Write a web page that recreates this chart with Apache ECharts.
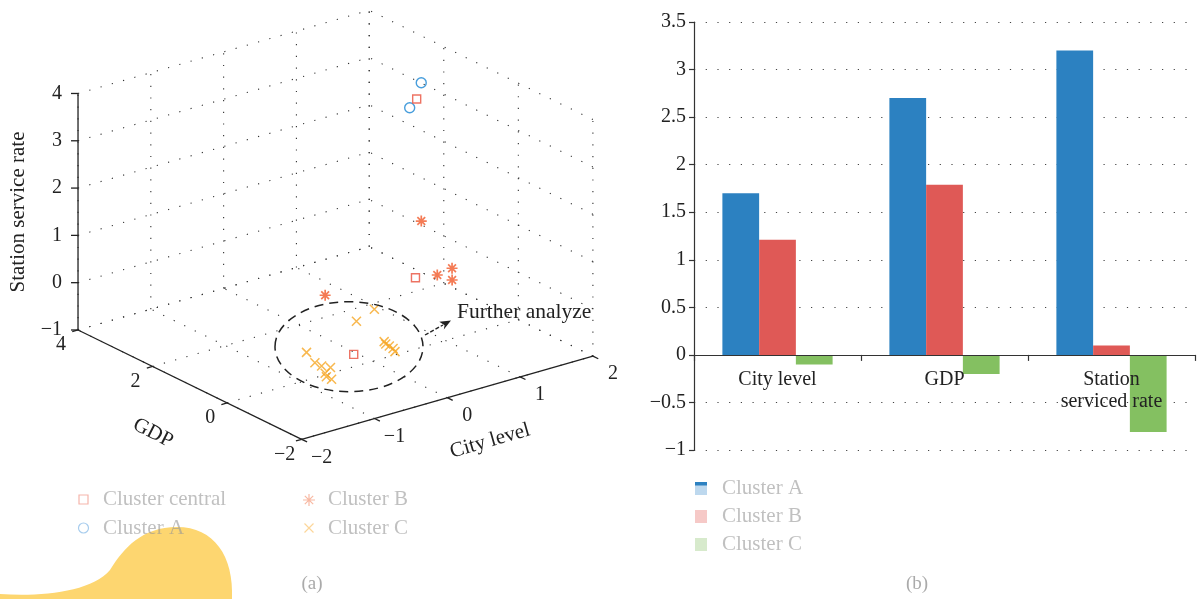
<!DOCTYPE html>
<html><head><meta charset="utf-8">
<script src="https://cdn.jsdelivr.net/npm/echarts@6/dist/echarts.min.js"></script>
<style>html,body{margin:0;padding:0;background:#fff}#c{width:1202px;height:599px}</style>
</head><body><div id="c"></div>
<script>
// ===================== DATA =====================
// (a) 3D scatter: [city level, GDP, station service rate]
const cityTicks = [-2, -1, 0, 1, 2];
const gdpTicks = [-2, 0, 2, 4];
const rateTicks = [-1, 0, 1, 2, 3, 4];
const clusterCentral = [[1.51, 1.77, 3.2], [0.93, 0.67, 0.1], [-0.21, 0.10, -0.8]];
const clusterA = [[1.67, 1.96, 3.4], [1.46, 1.86, 3.0]];
const clusterB = [[1.23, 1.10, 1.0], [1.25, 0.71, 0.0], [1.33, 0.47, 0.2], [1.29, 0.39, 0.0], [-0.50, 0.30, 0.5]];
const clusterC = [[0.35, 0.64, -0.3], [0.15, 0.73, -0.5], [0.28, 0.24, -0.8], [0.25, 0.14, -0.8],
  [0.33, 0.20, -0.9], [0.32, 0.08, -0.9], [0.28, -0.05, -0.9], [-0.50, 0.80, -0.9], [-0.61, 0.36, -0.9],
  [-0.61, 0.18, -0.9], [-0.56, 0.04, -0.9], [-0.71, -0.11, -0.9], [-0.76, -0.24, -0.9], [-0.76, -0.38, -0.9]];
// (b) bar chart
const barCategories = ['City level', 'GDP', 'Station\nserviced rate'];
const barClusterA = [1.7, 2.7, 3.2];
const barClusterB = [1.21, 1.79, 0.1];
const barClusterC = [-0.1, -0.2, -0.81];
const barTickLabels = { min: -1, max: 3.5, step: 0.5 };

// ===================== VIEW (layout of the 3D box) =====================
const BOX = { c: [-2, 2], g: [-2, 4], z: [-1, 4] };
const VIEW = { o: [301.7, 439.3], ec: [72.8, -20.8], eg: [-37.28, -18.22], ez: [0, -47.3] };
function proj(c, g, z) {
  const u = c - BOX.c[0], v = g - BOX.g[0], w = z - BOX.z[0];
  return [VIEW.o[0] + u * VIEW.ec[0] + v * VIEW.eg[0] + w * VIEW.ez[0],
          VIEW.o[1] + u * VIEW.ec[1] + v * VIEW.eg[1] + w * VIEW.ez[1]];
}
const FONT = '"Liberation Serif", "DejaVu Serif", serif';

const gridSegs = [];
rateTicks.forEach(z => { gridSegs.push([proj(BOX.c[0], BOX.g[1], z), proj(BOX.c[1], BOX.g[1], z)]);
                         gridSegs.push([proj(BOX.c[1], BOX.g[0], z), proj(BOX.c[1], BOX.g[1], z)]); });
cityTicks.forEach(c => { gridSegs.push([proj(c, BOX.g[1], BOX.z[0]), proj(c, BOX.g[1], BOX.z[1])]);
                         gridSegs.push([proj(c, BOX.g[0], BOX.z[0]), proj(c, BOX.g[1], BOX.z[0])]); });
gdpTicks.forEach(g => { gridSegs.push([proj(BOX.c[1], g, BOX.z[0]), proj(BOX.c[1], g, BOX.z[1])]);
                        gridSegs.push([proj(BOX.c[0], g, BOX.z[0]), proj(BOX.c[1], g, BOX.z[0])]); });
const axisSegs = [
  [proj(BOX.c[0], BOX.g[1], BOX.z[0]), proj(BOX.c[0], BOX.g[1], BOX.z[1])],
  [proj(BOX.c[0], BOX.g[1], BOX.z[0]), proj(BOX.c[0], BOX.g[0], BOX.z[0])],
  [proj(BOX.c[0], BOX.g[0], BOX.z[0]), proj(BOX.c[1], BOX.g[0], BOX.z[0])]
];
const nl = (a) => { const l = Math.hypot(a[0], a[1]); return [a[0] / l, a[1] / l]; };
const dGdpTick = nl([-VIEW.ec[0], -VIEW.ec[1]]);
const dCityTick = nl([-VIEW.eg[0], -VIEW.eg[1]]);
const tickSegs = [];
rateTicks.forEach(z => { const p = proj(BOX.c[0], BOX.g[1], z); tickSegs.push([p, [p[0] - 7, p[1]]]); });
gdpTicks.forEach(g => { const p = proj(BOX.c[0], g, BOX.z[0]); tickSegs.push([p, [p[0] + 6 * dGdpTick[0], p[1] + 6 * dGdpTick[1]]]); });
cityTicks.forEach(c => { const p = proj(c, BOX.g[0], BOX.z[0]); tickSegs.push([p, [p[0] + 6 * dCityTick[0], p[1] + 6 * dCityTick[1]]]); });

const fmt = v => String(v).replace('-', '\u2212');
function labelSeries(points, texts, dx, dy, align) {
  return {
    type: 'custom', coordinateSystem: 'cartesian2d', xAxisIndex: 0, yAxisIndex: 0, silent: true, clip: false, z: 4,
    data: points,
    renderItem(params, api) {
      const p = api.coord([api.value(0), api.value(1)]);
      return { type: 'text', x: p[0] + dx, y: p[1] + dy,
        style: { text: texts[params.dataIndex], fill: '#222', font: '20px ' + FONT, align: align, verticalAlign: 'middle' } };
    }
  };
}
function segSeries(segs, style, z) {
  return {
    type: 'custom', coordinateSystem: 'cartesian2d', xAxisIndex: 0, yAxisIndex: 0, silent: true, clip: false, z: z,
    data: segs.map(s => [s[0][0], s[0][1], s[1][0], s[1][1]]),
    renderItem(params, api) {
      const a = api.coord([api.value(0), api.value(1)]), b = api.coord([api.value(2), api.value(3)]);
      return { type: 'line', shape: { x1: a[0], y1: a[1], x2: b[0], y2: b[1] }, style: style };
    }
  };
}
const decoSeries = {
  type: 'custom', coordinateSystem: 'none', silent: true, z: 0, data: [0],
  renderItem() {
    return { type: 'group', children: [
      { type: 'path', shape: { pathData: 'M0,599 L0,594 C40,597 92,592 110,570 C124,548 142,527 177,527 C214,527 234,556 232,599 Z' }, style: { fill: '#fdd670' } },
      { type: 'path', shape: { pathData: 'M309,494V506M303,500H315M304.8,495.8L313.2,504.2M313.2,495.8L304.8,504.2' }, style: { fill: null, stroke: '#f8b9a3', lineWidth: 1.2 } },
      { type: 'path', shape: { pathData: 'M304.5,523.5L313.5,532.5M313.5,523.5L304.5,532.5' }, style: { fill: null, stroke: '#fcd69a', lineWidth: 1.2 } }
    ] };
  }
};
const annoSeries = {
  type: 'custom', coordinateSystem: 'none', silent: true, z: 8, data: [0],
  renderItem() {
    return { type: 'group', children: [
      { type: 'ellipse', shape: { cx: 349, cy: 346.7, rx: 74, ry: 45 }, style: { fill: null, stroke: '#222', lineWidth: 1.5, lineDash: [9, 6] } },
      { type: 'line', shape: { x1: 425, y1: 335, x2: 443, y2: 325 }, style: { stroke: '#222', lineWidth: 1.4, lineDash: [4, 2] } },
      { type: 'polygon', shape: { points: [[451, 320.5], [443.8, 329.6], [444.6, 325.3], [439.3, 321.8]] }, style: { fill: '#222' } }
    ] };
  }
};

const P = arr => arr.map(p => proj(p[0], p[1], p[2]));
const ASTER = 'path://M5 0V10M0 5H10M1.46 1.46L8.54 8.54M8.54 1.46L1.46 8.54';
const XMARK = 'path://M0 0L10 10M10 0L0 10';
const TXT = (x, y, text, fill, extra) => Object.assign({ type: 'text', z: 10, x: x, y: y,
  style: Object.assign({ text: text, fill: fill, font: '21px ' + FONT, verticalAlign: 'middle' }, extra || {}) });
const FADED = 'rgba(150,150,150,0.6)';

const chart = echarts.init(document.getElementById('c'), null, { renderer: 'canvas' });
chart.setOption({
  animation: false,
  backgroundColor: '#fff',
  grid: [
    { left: 0, top: 0, width: 620, height: 599 },
    { left: 694, top: 22, right: 7, bottom: 149 }
  ],
  xAxis: [
    { gridIndex: 0, type: 'value', min: 0, max: 620, show: false },
    { gridIndex: 1, type: 'category', data: barCategories, z: 5, position: 'bottom', offset: -95.1,
      axisLine: { onZero: false, lineStyle: { color: '#333', width: 1.2 } },
      axisTick: { show: true, length: 6, lineStyle: { color: '#333', width: 1.2 } },
      axisLabel: { color: '#222', fontFamily: FONT, fontSize: 20, margin: 14, lineHeight: 22 } }
  ],
  yAxis: [
    { gridIndex: 0, type: 'value', min: 0, max: 599, inverse: true, show: false },
    { gridIndex: 1, type: 'value', min: barTickLabels.min, max: barTickLabels.max, interval: barTickLabels.step,
      axisLine: { show: true, lineStyle: { color: '#333', width: 1.2 } },
      axisTick: { show: true, length: 5, lineStyle: { color: '#333', width: 1.2 } },
      axisLabel: { color: '#222', fontFamily: FONT, fontSize: 20, margin: 8, formatter: v => fmt(v) },
      splitLine: { show: true, lineStyle: { color: '#444', width: 1.2, type: [1.2, 10.5] } } }
  ],
  series: [
    decoSeries,
    segSeries(gridSegs, { stroke: '#333', lineWidth: 1.1, lineDash: [1.2, 10.5] }, 1),
    segSeries(axisSegs.concat(tickSegs), { stroke: '#222', lineWidth: 1.3 }, 2),
    labelSeries(rateTicks.map(z => proj(BOX.c[0], BOX.g[1], z)), rateTicks.map(fmt), -16, 0, 'right'),
    labelSeries(gdpTicks.map(g => proj(BOX.c[0], g, BOX.z[0])), gdpTicks.map(fmt), -17, 15, 'center'),
    labelSeries(cityTicks.map(c => proj(c, BOX.g[0], BOX.z[0])), cityTicks.map(fmt), 20, 18, 'center'),
    annoSeries,
    { name: 'Cluster C', type: 'scatter', xAxisIndex: 0, yAxisIndex: 0, data: P(clusterC), symbol: XMARK, symbolSize: 9, z: 5,
      itemStyle: { color: 'rgba(0,0,0,0)', borderColor: '#f6a623', borderWidth: 1.5 } },
    { name: 'Cluster B', type: 'scatter', xAxisIndex: 0, yAxisIndex: 0, data: P(clusterB), symbol: ASTER, symbolSize: 11, z: 5,
      itemStyle: { color: 'rgba(0,0,0,0)', borderColor: '#f15a2b', borderWidth: 1.7 } },
    { name: 'Cluster A', type: 'scatter', xAxisIndex: 0, yAxisIndex: 0, data: P(clusterA), symbol: 'circle', symbolSize: 10, z: 5,
      itemStyle: { color: 'rgba(0,0,0,0)', borderColor: '#1a86d3', borderWidth: 1.4 } },
    { name: 'Cluster central', type: 'scatter', xAxisIndex: 0, yAxisIndex: 0, data: P(clusterCentral), symbol: 'rect', symbolSize: 8, z: 5,
      itemStyle: { color: 'rgba(0,0,0,0)', borderColor: '#e8503c', borderWidth: 1.4 } },
    { name: 'Cluster A', type: 'bar', xAxisIndex: 1, yAxisIndex: 1, data: barClusterA, barWidth: '22%', barGap: '0%', itemStyle: { color: '#2c81c1' } },
    { name: 'Cluster B', type: 'bar', xAxisIndex: 1, yAxisIndex: 1, data: barClusterB, barWidth: '22%', barGap: '0%', itemStyle: { color: '#df5956' } },
    { name: 'Cluster C', type: 'bar', xAxisIndex: 1, yAxisIndex: 1, data: barClusterC, barWidth: '22%', barGap: '0%', itemStyle: { color: '#84c061' } }
  ],
  graphic: [
    TXT(457, 312, 'Further analyze', '#222', { font: '21.5px ' + FONT }),
    Object.assign(TXT(18, 212, 'Station service rate', '#222', { align: 'center' }), { rotation: Math.PI / 2 }),
    Object.assign(TXT(153, 433, 'GDP', '#222', { align: 'center' }), { rotation: -27 * Math.PI / 180 }),
    Object.assign(TXT(490, 441, 'City level', '#222', { align: 'center' }), { rotation: 16 * Math.PI / 180 }),
    { type: 'rect', z: 10, shape: { x: 79, y: 495, width: 9, height: 9 }, style: { fill: null, stroke: '#f6b5ab', lineWidth: 1.2 } },
    { type: 'circle', z: 10, shape: { cx: 83.5, cy: 528, r: 5 }, style: { fill: null, stroke: '#a8cdee', lineWidth: 1.2 } },
    TXT(103, 499, 'Cluster central', FADED),
    TXT(103, 528, 'Cluster A', FADED),
    TXT(328, 499, 'Cluster B', FADED),
    TXT(328, 528, 'Cluster C', FADED),
    TXT(312, 584, '(a)', '#aaa', { align: 'center', font: '19px ' + FONT }),
    { type: 'rect', z: 10, shape: { x: 695, y: 482, width: 12, height: 13 }, style: { fill: '#bdd8ee' } },
    { type: 'rect', z: 10, shape: { x: 695, y: 482, width: 12, height: 3.5 }, style: { fill: '#2c81c1' } },
    { type: 'rect', z: 10, shape: { x: 695, y: 510, width: 12, height: 13 }, style: { fill: '#f6c9c7' } },
    { type: 'rect', z: 10, shape: { x: 695, y: 538, width: 12, height: 13 }, style: { fill: '#d7eacc' } },
    TXT(722, 488, 'Cluster A', FADED),
    TXT(722, 516, 'Cluster B', FADED),
    TXT(722, 544, 'Cluster C', FADED),
    TXT(917, 584, '(b)', '#aaa', { align: 'center', font: '19px ' + FONT })
  ]
});
</script></body></html>
